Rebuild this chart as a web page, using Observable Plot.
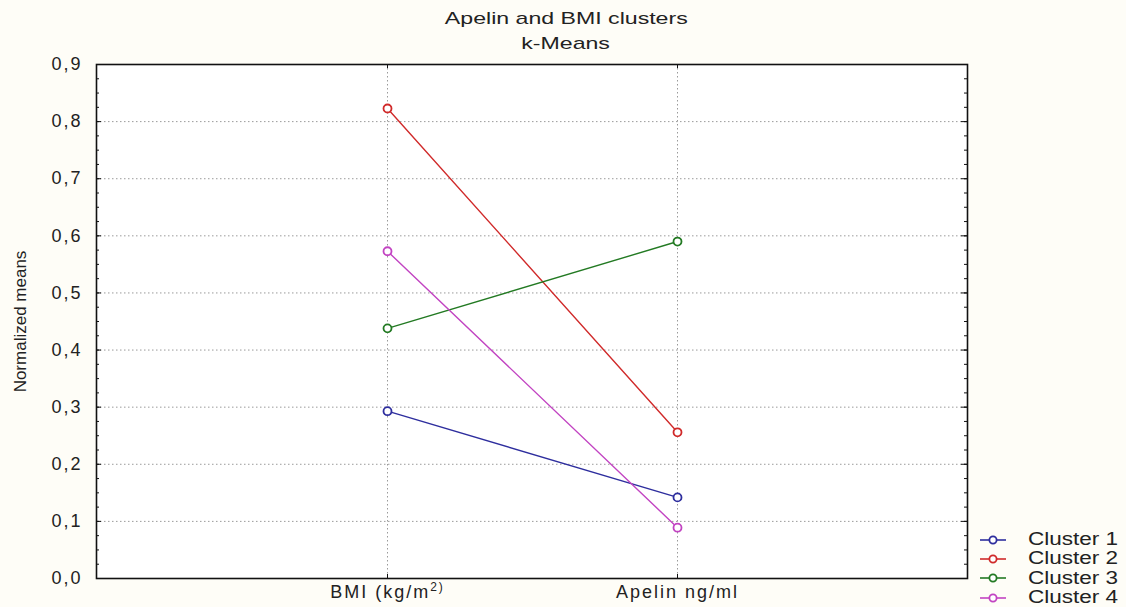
<!DOCTYPE html>
<html><head><meta charset="utf-8">
<script src="https://cdn.jsdelivr.net/npm/d3@7"></script>
<script src="https://cdn.jsdelivr.net/npm/@observablehq/plot@0.6"></script>
<style>
html,body{margin:0;padding:0;background:#fefdf7;}
#wrap{position:relative;width:1126px;height:607px;overflow:hidden;font-family:"Liberation Sans",Arial,sans-serif;color:#222;}
#chart{position:absolute;left:0;top:0;}
#title{position:absolute;left:3px;width:1126px;top:6px;text-align:center;font-size:17px;line-height:25px;}
#title span{display:inline-block;transform:scaleX(1.36);}
#legend{position:absolute;left:978px;top:530px;font-size:18px;}
.row{display:flex;align-items:center;height:19.3px;}
.row svg{margin-right:20px;}
.row span{display:inline-block;transform:scaleX(1.25);transform-origin:left center;}
</style>
</head><body>
<div id="wrap">
  <div id="chart"></div>
  <div id="title"><span>Apelin and BMI clusters</span><br><span>k-Means</span></div>
  <div id="legend"></div>
</div>
<script>
// ---- data ----
const categories = ["BMI (kg/m2)", "Apelin ng/ml"];
const clusters = ["Cluster 1", "Cluster 2", "Cluster 3", "Cluster 4"];
const cluster1 = [0.293, 0.142];
const cluster2 = [0.823, 0.256];
const cluster3 = [0.438, 0.590];
const cluster4 = [0.573, 0.089];
const colors = ["#2e2e9e", "#d02a2a", "#237a23", "#c244c2"];
const yTicks = [0, 0.1, 0.2, 0.3, 0.4, 0.5, 0.6, 0.7, 0.8, 0.9];
const yMinor = d3.range(0, 37).map(i => i * 0.025);
const yLabel = "Normalized means";

const series = [cluster1, cluster2, cluster3, cluster4];
const data = clusters.flatMap((c, i) => categories.map((cat, j) => ({cluster: c, category: cat, value: series[i][j]})));
const fmt = d => d.toFixed(1).replace(".", ",");

const W = 1126, H = 607, mL = 96, mR = 159, mT = 64, mB = 29;
const fw = W - mL - mR, fh = H - mT - mB;
const grid = {stroke: "#9a9a9a", strokeDasharray: "1.5,2.5", strokeWidth: 1};

const chart = Plot.plot({
  width: W, height: H,
  marginLeft: mL, marginRight: mR, marginTop: mT, marginBottom: mB,
  style: {fontSize: "18px", fontFamily: "'Liberation Sans', Arial, sans-serif", letterSpacing: "2px", color: "#222", background: "transparent"},
  x: {type: "point", domain: categories, padding: 1, axis: null},
  y: {domain: [0, 0.9], axis: null},
  color: {domain: clusters, range: colors},
  marks: [
    Plot.frame({fill: "white"}),
    Plot.ruleY(yTicks.slice(1, -1), grid),
    Plot.ruleX(categories, grid),
    Plot.line(data, {x: "category", y: "value", z: "cluster", stroke: "cluster", strokeWidth: 1.4}),
    Plot.dot(data, {x: "category", y: "value", stroke: "cluster", fill: "white", r: 4, strokeWidth: 1.8}),
    // inward ticks
    Plot.tickY(yMinor, {y: d => d, insetRight: fw - 3, stroke: "#111"}),
    Plot.tickY(yTicks, {y: d => d, insetRight: fw - 5, stroke: "#111"}),
    Plot.tickY(yMinor, {y: d => d, insetLeft: fw - 3, stroke: "#111"}),
    Plot.tickY(yTicks, {y: d => d, insetLeft: fw - 6, stroke: "#111"}),
    Plot.tickX(categories, {x: d => d, insetBottom: fh - 4, stroke: "#111"}),
    Plot.tickX(categories, {x: d => d, insetTop: fh - 4, stroke: "#111"}),
    Plot.frame({stroke: "#111", strokeWidth: 1.6}),
    Plot.axisY({ticks: yTicks, tickSize: 0, tickPadding: 14, tickFormat: fmt, label: null}),
    Plot.axisX({tickSize: 0, tickPadding: 7, label: null}),
    Plot.text([yLabel], {frameAnchor: "left", textAnchor: "middle", text: d => d, rotate: -90, dx: -76, fontSize: 17})
  ]
});

chart.querySelectorAll("text").forEach(t => {
  // superscript in BMI label
  if (t.textContent === categories[0]) {
    t.textContent = "BMI (kg/m";
    const ts = document.createElementNS("http://www.w3.org/2000/svg", "tspan");
    ts.setAttribute("dy", "-7");
    ts.setAttribute("font-size", "12");
    ts.textContent = "2)";
    t.appendChild(ts);
  }
  if (t.textContent === yLabel) t.style.letterSpacing = "0px";
});
document.getElementById("chart").appendChild(chart);

// legend
const leg = document.getElementById("legend");
clusters.forEach((c, i) => {
  const row = document.createElement("div");
  row.className = "row";
  row.innerHTML = `<svg width="30" height="12"><line x1="2" y1="6" x2="28" y2="6" stroke="${colors[i]}" stroke-width="1.6"/><circle cx="15" cy="6" r="3.6" fill="white" stroke="${colors[i]}" stroke-width="1.8"/></svg><span>${c}</span>`;
  leg.appendChild(row);
});
</script>
</body></html>
